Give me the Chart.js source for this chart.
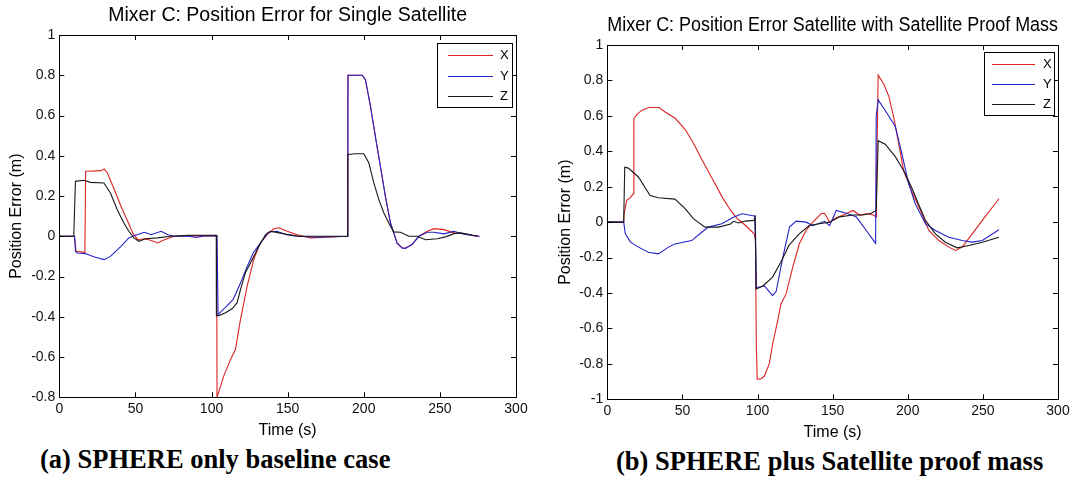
<!DOCTYPE html>
<html>
<head>
<meta charset="utf-8">
<script src="https://cdn.jsdelivr.net/npm/chart.js@4.4.1/dist/chart.umd.min.js"></script>
<style>
  body { margin: 0; background: #fff; width: 1080px; height: 479px; overflow: hidden; position: relative; }
  canvas { position: absolute; top: 0; }
  #chartA { left: 0; }
  #chartB { left: 540px; }
  .cap { position: absolute; font: bold 26.5px "Liberation Serif", "Times New Roman", serif; line-height: 30px; white-space: nowrap; color: #000; }
</style>
</head>
<body>
<canvas id="chartA" width="540" height="440"></canvas>
<canvas id="chartB" width="540" height="442"></canvas>
<div class="cap" style="left:40px;top:444px">(a) SPHERE only baseline case</div>
<div class="cap" style="left:616px;top:446px">(b) SPHERE plus Satellite proof mass</div>
<script>
// Datos: [tiempo (s), error (m)]
const seriesLabels = ["X", "Y", "Z"];
const xTicks = [0, 50, 100, 150, 200, 250, 300];
const yTicksA = [-0.8, -0.6, -0.4, -0.2, 0, 0.2, 0.4, 0.6, 0.8, 1];
const yTicksB = [-1, -0.8, -0.6, -0.4, -0.2, 0, 0.2, 0.4, 0.6, 0.8, 1];

// (a) SPHERE only
const singleX = [[0,0],[10,0],[11,-0.075],[16.8,-0.08],[17.3,0.323],[19.6,0.323],[27.3,0.326],[29.5,0.335],[31.7,0.313],[36.1,0.232],[40.5,0.149],[44.9,0.075],[48.2,0.017],[51.5,-0.017],[55.9,-0.012],[60,-0.02],[64.6,-0.033],[69,-0.017],[75.6,0],[85,0.003],[95,0.002],[103.4,0.003],[103.6,-0.8],[108,-0.695],[112.4,-0.613],[115.7,-0.563],[119,-0.414],[123.4,-0.248],[127.7,-0.116],[132.1,-0.033],[136.5,0.008],[140.9,0.037],[144.2,0.042],[149.7,0.025],[156.2,0.008],[165,-0.008],[175,-0.004],[189.3,0],[189.5,0.8],[198.9,0.8],[201.1,0.778],[204.4,0.646],[207.6,0.497],[210.9,0.348],[214.2,0.199],[217.5,0.067],[219.7,0.017],[221.9,-0.033],[225.2,-0.058],[227.4,-0.058],[231.8,-0.041],[236.2,0],[241.7,0.025],[246.1,0.038],[252.7,0.033],[259.2,0.017],[265.8,0.013],[272.4,0.003],[276,0]];
const singleY = [[0,0],[10,0],[10.6,-0.075],[11.7,-0.083],[17.2,-0.086],[22.6,-0.102],[29.3,-0.116],[33.6,-0.1],[40.5,-0.05],[45.7,-0.008],[49,0.003],[55.9,0.02],[60.3,0.008],[66.9,0.025],[71.3,0.008],[75.6,0],[84,0.002],[90,-0.006],[95,0.002],[103.6,0.002],[104.3,-0.389],[109.8,-0.348],[114.2,-0.314],[118.6,-0.24],[123,-0.157],[127.4,-0.082],[132.9,-0.025],[137.3,0.02],[142.8,0.025],[149.3,0.008],[155.9,0],[170,-0.005],[189.3,0],[189.5,0.207],[189.7,0.8],[198.9,0.8],[201.1,0.778],[204.4,0.646],[207.6,0.497],[210.9,0.348],[214.2,0.199],[217.5,0.067],[219.7,0.017],[221.9,-0.035],[225.2,-0.058],[227.4,-0.06],[231.8,-0.04],[236.2,0],[241.7,0.02],[246.1,0.02],[252.7,0.012],[259.2,0.025],[265.8,0.01],[272.4,0.003],[276,0]];
const singleZ = [[0,0],[9.5,0],[10.6,0.273],[16.1,0.278],[20.5,0.268],[29.3,0.265],[33.6,0.215],[38,0.133],[42.4,0.066],[45.7,0.025],[49,-0.008],[52.3,-0.025],[56.6,-0.012],[64.4,-0.008],[73.2,0],[85,0.005],[103.1,0.005],[103.1,-0.2],[103.3,-0.394],[104.8,-0.394],[109.2,-0.38],[113.5,-0.36],[116.8,-0.33],[119,-0.265],[122.3,-0.18],[126.7,-0.116],[131.1,-0.05],[135.5,0.008],[138.8,0.025],[144.3,0.017],[150.8,0.008],[157.4,0],[189.3,0],[189.5,0.406],[194.5,0.41],[200,0.41],[203.3,0.365],[206.6,0.265],[209.9,0.182],[213.2,0.116],[217.5,0.05],[219.7,0.022],[224.1,0.02],[229.6,0],[235.1,0],[240.6,-0.017],[248.3,-0.012],[253.8,-0.003],[259.2,0.013],[263.6,0.017],[270.2,0.008],[274.6,0]];

// (b) SPHERE plus proof mass
const proofX = [[0,0],[10.9,0],[11.2,0.047],[12.9,0.123],[15.5,0.14],[17.2,0.16],[17.7,0.585],[19.9,0.61],[23.2,0.632],[27.7,0.647],[34.3,0.647],[38.8,0.62],[45.4,0.585],[52.1,0.52],[57.7,0.44],[63.2,0.35],[69.9,0.245],[76.6,0.14],[82.1,0.066],[86.6,0.019],[92.1,-0.019],[97.7,-0.066],[98.6,-0.1],[99.2,-0.7],[99.8,-0.886],[102,-0.885],[104.5,-0.87],[107.8,-0.8],[110,-0.69],[113.4,-0.556],[115.6,-0.462],[119,-0.405],[123.4,-0.255],[127.8,-0.122],[132.3,-0.047],[136.8,0],[142.3,0.047],[144.6,0.05],[148,0],[151.3,0.02],[159,0.047],[163.5,0.066],[168,0.04],[172.4,0.047],[176.9,0.04],[179,0.03],[179.2,0.22],[180.3,0.83],[184,0.78],[187.4,0.71],[190.7,0.59],[194,0.44],[197.3,0.29],[202.9,0.17],[208.5,0.066],[214,-0.047],[220.7,-0.104],[227.3,-0.141],[231.8,-0.16],[236.2,-0.141],[242.9,-0.066],[249.6,0.01],[260.7,0.132]];
const proofY = [[0,0],[10.9,0],[12,-0.066],[15.5,-0.113],[20.7,-0.141],[27.4,-0.17],[34,-0.179],[40.7,-0.141],[45,-0.123],[56.2,-0.104],[62.8,-0.057],[67.3,-0.028],[76.2,-0.009],[84,0.028],[89.6,0.047],[96,0.038],[98,0.035],[98.6,-0.1],[99,-0.37],[104.6,-0.36],[110,-0.415],[112.4,-0.39],[116.8,-0.2],[121.3,-0.028],[125.7,0.006],[132.4,0],[136.8,-0.02],[144.6,0.005],[148,-0.02],[152.4,0.066],[159,0.05],[165.7,0.03],[172.4,-0.047],[178,-0.113],[178.6,-0.12],[179,0.6],[180.3,0.69],[185,0.63],[191.7,0.54],[196,0.39],[200.5,0.22],[205,0.104],[211.8,-0.01],[218.4,-0.047],[227.3,-0.085],[236.2,-0.104],[242.9,-0.113],[249.6,-0.104],[260.7,-0.043]];
const proofZ = [[0,0],[10.9,0],[11.6,0.31],[14,0.305],[20.7,0.255],[28.5,0.15],[34,0.138],[45,0.13],[51.8,0.076],[57.3,0.02],[65,-0.028],[74,-0.028],[82,-0.01],[84,0.005],[87.5,-0.005],[92,0.006],[97.5,0.01],[98.5,0.03],[99.2,-0.377],[103.5,-0.36],[110,-0.31],[115.5,-0.226],[121,-0.13],[127.8,-0.066],[134.4,-0.019],[141,-0.009],[148,0],[154.6,0.03],[163.5,0.04],[170,0.04],[175.7,0.05],[179,0.066],[180.3,0.46],[185,0.44],[191.7,0.37],[197.3,0.29],[202.9,0.19],[207.3,0.1],[211.8,0.01],[218.4,-0.066],[225,-0.113],[232.9,-0.145],[240.7,-0.132],[249.6,-0.113],[260.7,-0.085]];

const colors = ["rgb(220,35,35)", "rgb(35,35,200)", "rgb(25,25,25)"];
const FONT = '"Liberation Sans", Arial, sans-serif';
Chart.defaults.font.family = FONT;
Chart.defaults.color = "#000";

// Marco estilo MATLAB: caja, marcas hacia dentro y leyenda
const matlabFrame = {
  id: "matlabFrame",
  afterDatasetsDraw(chart, args, opts) {
    const { ctx, chartArea: a, scales: { x, y } } = chart;
    ctx.save();
    ctx.strokeStyle = "#000";
    ctx.lineWidth = 1;
    ctx.strokeRect(Math.round(a.left) + 0.5, Math.round(a.top) + 0.5, Math.round(a.right - a.left), Math.round(a.bottom - a.top));
    const tl = 5;
    ctx.beginPath();
    x.ticks.forEach(t => {
      const px = Math.round(x.getPixelForValue(t.value)) + 0.5;
      ctx.moveTo(px, a.bottom); ctx.lineTo(px, a.bottom - tl);
      ctx.moveTo(px, a.top); ctx.lineTo(px, a.top + tl);
    });
    y.ticks.forEach(t => {
      const py = Math.round(y.getPixelForValue(t.value)) + 0.5;
      ctx.moveTo(a.left, py); ctx.lineTo(a.left + tl, py);
      ctx.moveTo(a.right, py); ctx.lineTo(a.right - tl, py);
    });
    ctx.stroke();

    const lg = opts.legend;
    const bx = Math.round(a.right - lg.right - lg.w), by = Math.round(a.top + lg.top);
    ctx.fillStyle = "#fff";
    ctx.fillRect(bx, by, lg.w, lg.h);
    ctx.strokeStyle = "#000";
    ctx.strokeRect(bx + 0.5, by + 0.5, lg.w, lg.h);
    ctx.font = "13px " + FONT;
    ctx.textBaseline = "middle";
    chart.data.datasets.forEach((ds, i) => {
      const ly = Math.round(by + lg.row0 + i * lg.dy) + 0.5;
      ctx.strokeStyle = ds.borderColor;
      ctx.lineWidth = 1.2;
      ctx.beginPath();
      ctx.moveTo(bx + lg.l0, ly);
      ctx.lineTo(bx + lg.l1, ly);
      ctx.stroke();
      ctx.fillStyle = "#000";
      ctx.fillText(ds.label, bx + lg.tx, ly);
    });
    ctx.restore();
  }
};

function makeChart(id, title, series, yTicks, lay) {
  const ctx = document.getElementById(id).getContext("2d");
  return new Chart(ctx, {
    type: "line",
    data: {
      datasets: series.map((s, i) => ({
        label: seriesLabels[i],
        data: s.map(p => ({ x: p[0], y: p[1] })),
        borderColor: colors[i],
        borderWidth: 1.1,
        pointRadius: 0,
        tension: 0,
        order: 2 - i
      }))
    },
    options: {
      responsive: false,
      animation: false,
      devicePixelRatio: 1,
      layout: { padding: { left: 0, right: lay.padRight, top: 0, bottom: 0 } },
      plugins: {
        legend: { display: false },
        tooltip: { enabled: false },
        title: {
          display: true,
          text: title,
          fullSize: false,
          font: { size: 19.5, weight: "normal" },
          color: "#000",
          padding: { top: lay.titleTop, bottom: 7.3 }
        },
        matlabFrame: { legend: lay.legend }
      },
      scales: {
        x: {
          type: "linear",
          min: 0,
          max: 300,
          afterBuildTicks: s => { s.ticks = xTicks.map(v => ({ value: v })); },
          afterFit: s => { s.height = 42.7; },
          grid: { display: false, drawTicks: false },
          border: { display: false },
          ticks: { padding: 3.3, font: { size: 14 }, color: "#111", maxRotation: 0 },
          title: { display: true, text: "Time (s)", font: { size: 16 }, color: "#000", padding: { top: 0, bottom: 0 } }
        },
        y: {
          type: "linear",
          min: yTicks[0],
          max: yTicks[yTicks.length - 1],
          afterBuildTicks: s => { s.ticks = yTicks.map(v => ({ value: v })); },
          afterFit: s => { s.width = lay.yWidth; },
          grid: { display: false, drawTicks: false },
          border: { display: false },
          ticks: { padding: 4, font: { size: 14 }, color: "#111", callback: v => String(v) },
          title: { display: true, text: "Position Error (m)", font: { size: 16 }, color: "#000", padding: { top: lay.yTitlePad, bottom: 0 } }
        }
      }
    },
    plugins: [matlabFrame]
  });
}

makeChart("chartA", "Mixer C: Position Error for Single Satellite", [singleX, singleY, singleZ], yTicksA, {
  padRight: 24, titleTop: 4.3, yWidth: 59.3, yTitlePad: 6.7,
  legend: { w: 75, h: 64, top: 8, right: 4, l0: 11, l1: 56, tx: 63, row0: 12, dy: 20.5 }
});

makeChart("chartB", "Mixer C: Position Error Satellite with Satellite Proof Mass", [proofX, proofY, proofZ], yTicksB, {
  padRight: 22, titleTop: 14.3, yWidth: 67.3, yTitlePad: 16.4,
  legend: { w: 70, h: 63, top: 7, right: 4, l0: 8, l1: 51, tx: 59, row0: 11.6, dy: 20.3 }
});
</script>
</body>
</html>
